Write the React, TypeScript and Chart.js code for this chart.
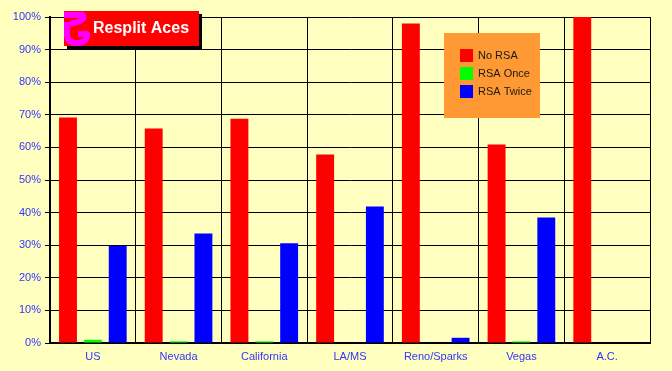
import React, { useEffect, useRef } from "react";
import { Chart, registerables } from "chart.js";

Chart.register(...registerables);

const categories = ["US", "Nevada", "California", "LA/MS", "Reno/Sparks", "Vegas", "A.C."];
const noRSA = [69.2, 65.8, 68.8, 57.8, 98.0, 60.9, 100];
const rsaOnce = [1.0, 0.5, 0.5, 0, 0, 0.5, 0];
const rsaTwice = [29.8, 33.6, 30.6, 41.9, 1.6, 38.5, 0];
const seriesNames = ["No RSA", "RSA Once", "RSA Twice"];
const seriesColors = ["#FF0000", "#00FF00", "#0000FF"];
const titleText = "Resplit Aces";

const BG = "#FFFFC0";
const TICK_COLOR = "#3333FF";

const decorPlugin = {
  id: "decor",
  beforeDraw(chart: any) {
    const ctx = chart.ctx;
    ctx.save();
    ctx.fillStyle = BG;
    ctx.fillRect(0, 0, chart.width, chart.height);
    ctx.restore();
  },
  afterDraw(chart: any) {
    const ctx = chart.ctx;
    ctx.save();
    // title box
    ctx.fillStyle = "#000000";
    ctx.fillRect(67, 14, 135, 35);
    ctx.fillStyle = "#FF0000";
    ctx.fillRect(64, 11, 135, 35);
    // icon
    ctx.strokeStyle = "#FF00FF";
    ctx.lineWidth = 6;
    ctx.lineCap = "butt";
    ctx.lineJoin = "round";
    ctx.beginPath();
    ctx.moveTo(64, 15);
    ctx.lineTo(83, 15);
    ctx.quadraticCurveTo(86, 21, 70, 24);
    ctx.stroke();
    ctx.beginPath();
    ctx.moveTo(67, 22);
    ctx.lineTo(67, 36);
    ctx.quadraticCurveTo(68, 43, 77, 43);
    ctx.quadraticCurveTo(87, 43, 87, 34);
    ctx.lineTo(78, 34);
    ctx.stroke();
    ctx.fillStyle = "#FFFFFF";
    ctx.font = "bold 16px 'Liberation Sans', Arial, sans-serif";
    ctx.textBaseline = "middle";
    ctx.textAlign = "left";
    ctx.fillText(titleText, 93, 29);
    // legend box
    ctx.fillStyle = "#FF9933";
    ctx.fillRect(444, 33, 96, 85);
    ctx.font = "11px 'Liberation Sans', Arial, sans-serif";
    for (let i = 0; i < seriesNames.length; i++) {
      const y = 49 + i * 18;
      ctx.fillStyle = seriesColors[i];
      ctx.fillRect(460, y, 13, 13);
      ctx.fillStyle = "#1a1a1a";
      ctx.fillText(seriesNames[i], 478, y + 7);
    }
    ctx.restore();
  },
};

export default function App() {
  const ref = useRef<HTMLCanvasElement>(null);
  useEffect(() => {
    if (!ref.current) return;
    const chart = new Chart(ref.current, {
      type: "bar",
      data: {
        labels: categories,
        datasets: [
          { label: seriesNames[0], data: noRSA, backgroundColor: seriesColors[0] },
          { label: seriesNames[1], data: rsaOnce, backgroundColor: seriesColors[1] },
          { label: seriesNames[2], data: rsaTwice, backgroundColor: seriesColors[2] },
        ],
      },
      options: {
        responsive: false,
        animation: false,
        devicePixelRatio: 1,
        datasets: { bar: { categoryPercentage: 0.87, barPercentage: 0.72 } },
        layout: { padding: { top: 17, right: 22, left: 0, bottom: 0 } },
        plugins: { legend: { display: false }, tooltip: { enabled: false }, title: { display: false } },
        scales: {
          x: {
            offset: true,
            grid: { offset: true, color: "#000000", lineWidth: 1, drawTicks: false },
            border: { color: "#000000", width: 2 },
            ticks: { color: TICK_COLOR, font: { family: "'Liberation Sans', Arial, sans-serif", size: 11 }, padding: 7 },
            afterFit(scale: any) { scale.height = 28; },
          },
          y: {
            min: 0,
            max: 100,
            grid: { color: "#000000", lineWidth: 1, tickLength: 5 },
            border: { color: "#000000", width: 2 },
            ticks: {
              stepSize: 10,
              color: TICK_COLOR,
              font: { family: "'Liberation Sans', Arial, sans-serif", size: 11 },
              padding: 4,
              callback: (v: any) => v + "%",
            },
            afterFit(scale: any) { scale.width = 50; },
          },
        },
      },
      plugins: [decorPlugin],
    });
    return () => chart.destroy();
  }, []);
  return (
    <div style={{ position: "fixed", left: 0, top: 0, width: 672, height: 371, background: BG }}>
      <canvas ref={ref} width={672} height={371} style={{ width: 672, height: 371, display: "block" }} />
    </div>
  );
}
